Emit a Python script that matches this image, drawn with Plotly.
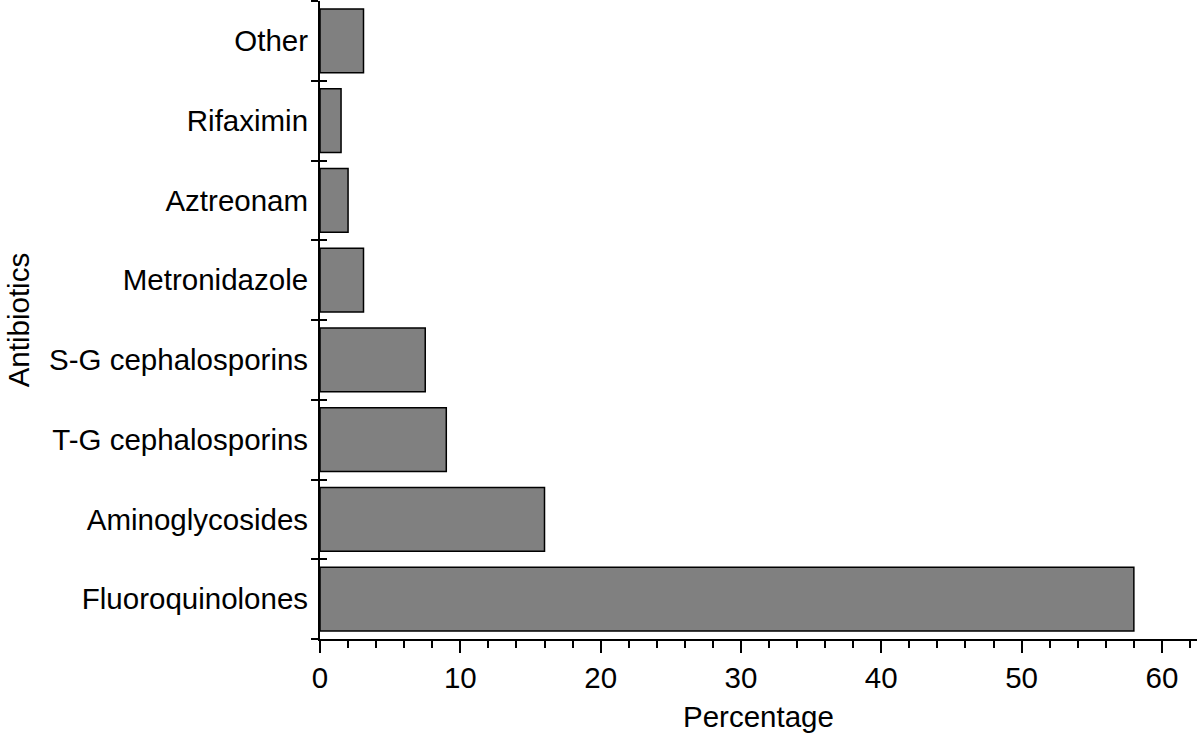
import plotly.graph_objects as go

categories = ["Fluoroquinolones", "Aminoglycosides", "T-G cephalosporins", "S-G cephalosporins",
              "Metronidazole", "Aztreonam", "Rifaximin", "Other"]
percentages = [58.0, 16.0, 9.0, 7.5, 3.1, 2.0, 1.5, 3.1]

FONT = "Liberation Sans, Arial, Helvetica, sans-serif"
FS = 29.5

fig = go.Figure()
fig.add_trace(go.Bar(
    x=percentages, y=categories, orientation="h",
    marker=dict(color="#808080", line=dict(color="black", width=1.5)),
    xaxis="x", yaxis="y", showlegend=False,
))
# invisible copy for the inside half of the crossing category ticks
fig.add_trace(go.Bar(
    x=percentages, y=categories, orientation="h",
    marker=dict(color="rgba(0,0,0,0)", line=dict(width=0)),
    xaxis="x", yaxis="y2", showlegend=False, hoverinfo="skip",
))

fig.update_layout(
    width=1200, height=733,
    margin=dict(l=320, r=3, t=1, b=94, autoexpand=False),
    paper_bgcolor="white", plot_bgcolor="white",
    bargap=0.2,
    font=dict(family=FONT, size=FS, color="black"),
    xaxis=dict(
        range=[0, 62.5], dtick=10, tick0=0, automargin=False,
        ticks="outside", ticklen=12, tickwidth=2, tickcolor="black",
        showline=True, linecolor="black", linewidth=2,
        showgrid=False, zeroline=False,
        tickfont=dict(size=FS),
        minor=dict(dtick=2, tick0=0, ticks="outside", ticklen=7, tickwidth=2, tickcolor="black", showgrid=False),
    ),
    yaxis=dict(
        categoryorder="array", categoryarray=categories, automargin=False,
        tickson="boundaries", ticks="outside", ticklen=7, tickwidth=2, tickcolor="black",
        ticklabelstandoff=4,
        showline=True, linecolor="black", linewidth=2,
        showgrid=False, zeroline=False,
        tickfont=dict(size=FS),
    ),
    yaxis2=dict(
        overlaying="y", matches="y", side="left", automargin=False,
        categoryorder="array", categoryarray=categories,
        tickson="boundaries", ticks="inside", ticklen=7, tickwidth=2, tickcolor="black",
        showticklabels=False, showline=False, showgrid=False, zeroline=False,
    ),
    annotations=[
        dict(text="Percentage", xref="paper", yref="paper", x=0.5, y=-0.121,
             xanchor="center", yanchor="middle", showarrow=False, font=dict(size=FS)),
        dict(text="Antibiotics", xref="paper", yref="paper", x=-0.344, y=0.5,
             xanchor="center", yanchor="middle", showarrow=False, textangle=-90, font=dict(size=FS)),
    ],
)

fig.write_html("out.html", config={"displayModeBar": False},
               post_script="document.body.style.margin='0';document.body.style.overflow='hidden';")
